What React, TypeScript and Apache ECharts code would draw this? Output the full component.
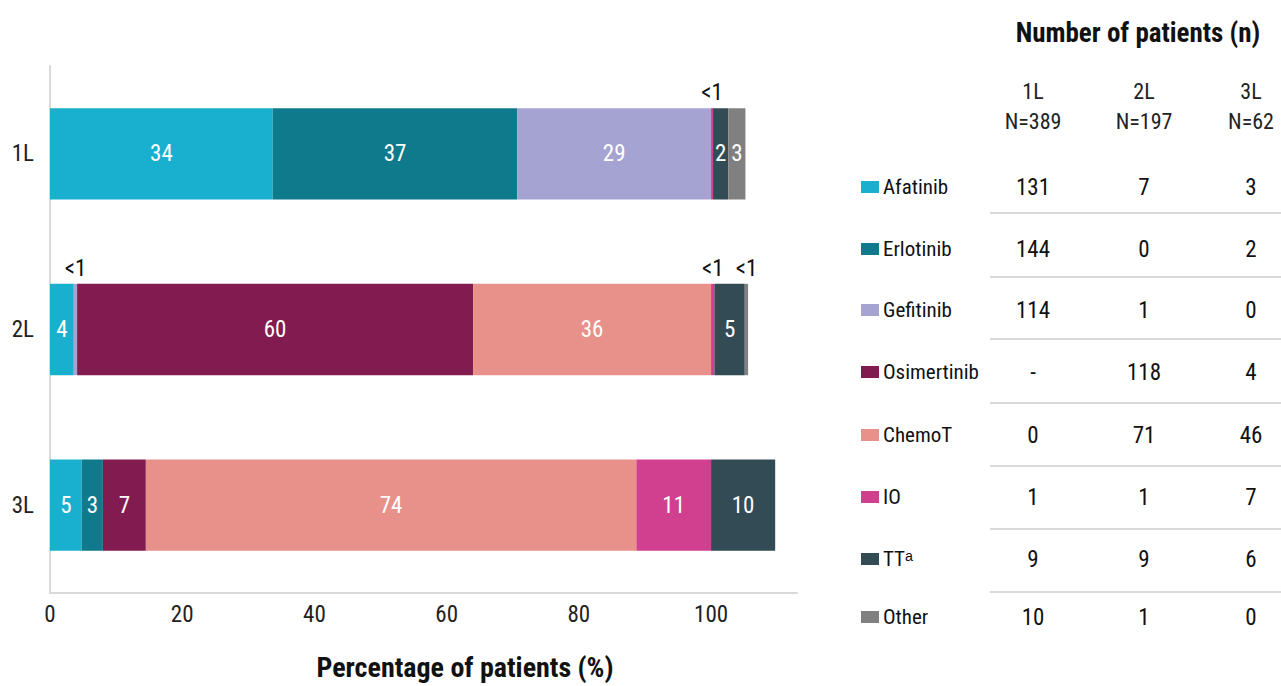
import React, { useEffect, useRef } from "react";
import * as echarts from "echarts";

const FONT = '"Liberation Sans Narrow", "Arial Narrow", "Roboto Condensed", "Liberation Sans", Arial, sans-serif';

const lines = ["1L", "2L", "3L"];
const lineN = ["N=389", "N=197", "N=62"];
const treatments = ["Afatinib", "Erlotinib", "Gefitinib", "Osimertinib", "ChemoT", "IO", "TTᵃ", "Other"];
const colors = ["#19B0CF", "#0F7A8C", "#A5A3D2", "#821B50", "#E8918A", "#D0408E", "#334B55", "#808080"];

// percentage of patients per line of therapy (1L, 2L, 3L) for each treatment
const pctAfatinib = [33.7, 3.6, 4.8];
const pctErlotinib = [37.0, 0, 3.2];
const pctGefitinib = [29.3, 0.5, 0];
const pctOsimertinib = [0, 59.9, 6.5];
const pctChemoT = [0, 36.0, 74.2];
const pctIO = [0.3, 0.5, 11.3];
const pctTT = [2.3, 4.6, 9.7];
const pctOther = [2.6, 0.5, 0];
const pctSeries = [pctAfatinib, pctErlotinib, pctGefitinib, pctOsimertinib, pctChemoT, pctIO, pctTT, pctOther];

// number of patients table (1L, 2L, 3L)
const nAfatinib = ["131", "7", "3"];
const nErlotinib = ["144", "0", "2"];
const nGefitinib = ["114", "1", "0"];
const nOsimertinib = ["-", "118", "4"];
const nChemoT = ["0", "71", "46"];
const nIO = ["1", "1", "7"];
const nTT = ["9", "9", "6"];
const nOther = ["10", "1", "0"];
const nTable = [nAfatinib, nErlotinib, nGefitinib, nOsimertinib, nChemoT, nIO, nTT, nOther];

const xTicks = [0, 20, 40, 60, 80, 100];

export default function App() {
  const ref = useRef<HTMLDivElement>(null);
  useEffect(() => {
    if (!ref.current) return;
    const chart = echarts.init(ref.current, null, { renderer: "svg" });

    const series = treatments.map((name, si) => ({
      name,
      type: "bar",
      stack: "total",
      barWidth: "52%",
      itemStyle: { color: colors[si] },
      data: pctSeries[si].map((v) => {
        const small = v > 0 && v < 1;
        return {
          value: v,
          label: v <= 0
            ? { show: false }
            : small
            ? { show: true, position: "top", distance: 4, formatter: "<1", color: "#111", fontSize: 23, fontFamily: FONT }
            : { show: true, position: "inside", formatter: String(Math.round(v)), color: "#fff", fontSize: 23, fontFamily: FONT },
        };
      }),
    }));

    const colX = [1033, 1144, 1251];
    const rowY = [187, 249, 310, 372, 435, 497, 559, 617];
    const lineY = [213, 277, 339, 403, 466, 529, 592];
    const graphics: any[] = [];
    graphics.push({
      type: "text", x: 1138, y: 33,
      style: { text: "Number of patients (n)", font: `bold 27px ${FONT}`, fill: "#111", align: "center", verticalAlign: "middle" },
    });
    lines.forEach((l, i) => {
      graphics.push({ type: "text", x: colX[i], y: 91, style: { text: l, font: `22px ${FONT}`, fill: "#222", align: "center", verticalAlign: "middle" } });
      graphics.push({ type: "text", x: colX[i], y: 121, style: { text: lineN[i], font: `22px ${FONT}`, fill: "#222", align: "center", verticalAlign: "middle" } });
    });
    treatments.forEach((t, r) => {
      graphics.push({ type: "rect", shape: { x: 861, y: rowY[r] - 6, width: 18, height: 12 }, style: { fill: colors[r] } });
      graphics.push({ type: "text", x: 883, y: rowY[r], style: { text: t, font: `21px ${FONT}`, fill: "#111", align: "left", verticalAlign: "middle" } });
      nTable[r].forEach((val, c) => {
        graphics.push({ type: "text", x: colX[c], y: rowY[r], style: { text: val, font: `23px ${FONT}`, fill: "#111", align: "center", verticalAlign: "middle" } });
      });
    });
    lineY.forEach((y) => {
      graphics.push({ type: "line", shape: { x1: 990, y1: y, x2: 1281, y2: y }, style: { stroke: "#d9d9d9", lineWidth: 2 } });
    });
    graphics.push({
      type: "text", x: 465, y: 667,
      style: { text: "Percentage of patients (%)", font: `bold 28px ${FONT}`, fill: "#111", align: "center", verticalAlign: "middle" },
    });

    chart.setOption({
      animation: false,
      backgroundColor: "#fff",
      grid: { left: 50, right: 484, top: 66, bottom: 93, containLabel: false },
      xAxis: {
        type: "value",
        min: 0,
        max: 113,
        interval: 20,
        axisLine: { show: true, lineStyle: { color: "#d9d9d9", width: 2 } },
        axisTick: { show: false },
        splitLine: { show: false },
        axisLabel: {
          color: "#222", fontSize: 23, fontFamily: FONT, margin: 10, showMaxLabel: false,
          formatter: (v: number) => (xTicks.includes(v) ? String(v) : ""),
        },
      },
      yAxis: {
        type: "category",
        data: lines,
        inverse: true,
        axisLine: { show: true, lineStyle: { color: "#d9d9d9", width: 2 } },
        axisTick: { show: false },
        axisLabel: { color: "#222", fontSize: 23, fontFamily: FONT, margin: 16 },
      },
      series,
      graphic: graphics,
    });
    return () => chart.dispose();
  }, []);
  return <div ref={ref} style={{ position: "fixed", left: 0, top: 0, width: 1281, height: 686 }} />;
}
